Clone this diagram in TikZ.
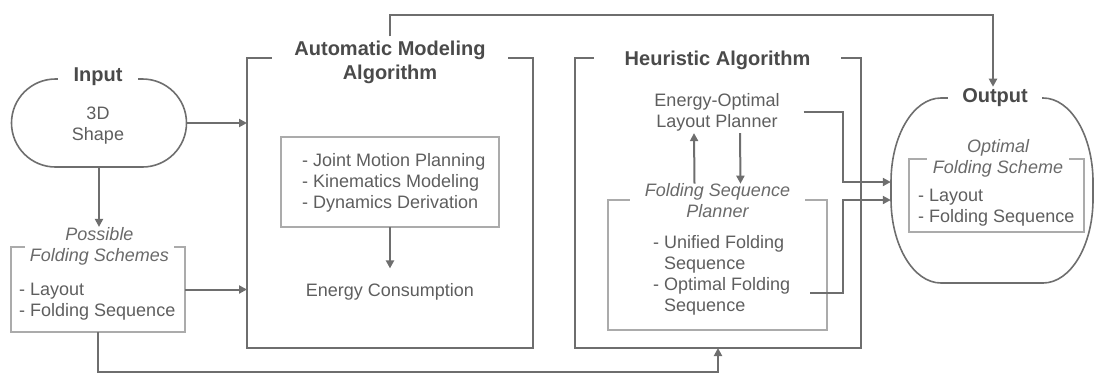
\documentclass[tikz,border=0pt]{standalone}
\usepackage{fontspec}
\setmainfont{Liberation Sans}
\usetikzlibrary{arrows.meta,shapes.misc}
\definecolor{linegray}{HTML}{6E6E6E}
\definecolor{boxgray}{HTML}{ABABAB}
\definecolor{txtgray}{HTML}{5E5E5E}
\definecolor{ttlgray}{HTML}{4A4A4A}
\definecolor{itgray}{HTML}{6A6A6A}
\begin{document}
\begin{tikzpicture}[x=1pt,y=1pt,yscale=-1,
  conn/.style={draw=linegray,line width=2pt},
  arr/.style={conn,-{Triangle[length=8pt,width=8pt]}},
  bigbox/.style={draw=linegray,line width=2pt,inner sep=0pt,outer sep=0pt},
  smallbox/.style={draw=boxgray,line width=1.6pt,inner sep=0pt,outer sep=0pt},
  txt/.style={text=txtgray,font=\fontsize{18}{21}\selectfont,inner sep=0pt,align=center},
  lst/.style={txt,align=left,anchor=west},
  itl/.style={text=itgray,font=\itshape\fontsize{18}{21}\selectfont,inner sep=0pt,align=center,fill=white},
  ttl/.style={text=ttlgray,font=\bfseries\fontsize{20}{24}\selectfont,inner ysep=2pt,align=center,fill=white},
]
\useasboundingbox (0,0) rectangle (1094,376);

% frames
\node[bigbox,minimum width=286pt,minimum height=290pt] (ama) at (390,203) {};
\node[bigbox,minimum width=286pt,minimum height=290pt] (ha) at (718,203) {};
\node[smallbox,minimum width=218pt,minimum height=90pt] (amain) at (390,182) {};
\node[smallbox,minimum width=219pt,minimum height=130pt] (fsp) at (717.5,265) {};
\node[smallbox,minimum width=174pt,minimum height=85pt] (pfs) at (98,289.5) {};
\node[smallbox,minimum width=175pt,minimum height=73pt] (ofs) at (996.5,195.5) {};
\node[draw=linegray,line width=1.6pt,rounded rectangle,minimum width=175pt,minimum height=88pt,inner sep=0pt] (in) at (99,123) {};

% output outline with elliptic corners
\draw[draw=linegray,line width=1.6pt]
  (941,98) arc[start angle=270,end angle=180,x radius=50,y radius=84]
  -- (891,199) arc[start angle=180,end angle=90,x radius=50,y radius=84]
  -- (1043,283) arc[start angle=90,end angle=0,x radius=50,y radius=84]
  -- (1093,182) arc[start angle=0,end angle=-90,x radius=50,y radius=84]
  -- cycle;
\node[minimum width=202pt,minimum height=185pt,inner sep=0pt] (out) at (992,190.5) {};

% titles
\node[ttl,inner xsep=16pt] (int) at (98,77) {Input};
\node[ttl,inner xsep=22pt,inner ysep=4pt] (amat) at (390,62) {Automatic Modeling\\Algorithm};
\node[ttl,inner xsep=31pt] (hat) at (717.5,60) {Heuristic Algorithm};
\node[ttl,inner xsep=14pt] (outt) at (995,98) {Output};
\node[itl,inner xsep=5pt] (pfst) at (99.5,246) {Possible\\Folding Schemes};
\node[itl,inner xsep=15pt] (fspt) at (717.5,201) {Folding Sequence\\Planner};
\node[itl,inner xsep=6pt] (ofst) at (998,158) {Optimal\\Folding Scheme};

% body text
\node[txt] (shape) at (98,126) {3D\\Shape};
\node[lst] (pfl) at (19,302) {- Layout\\- Folding Sequence};
\node[lst] (jm) at (302,183) {- Joint Motion Planning\\- Kinematics Modeling\\- Dynamics Derivation};
\node[txt,inner ysep=15pt] (ec) at (390,292) {Energy Consumption};
\node[txt,inner ysep=2pt] (eo) at (717,112) {Energy-Optimal\\Layout Planner};
\node[lst] (fl) at (653,275) {- Unified Folding\\\hphantom{- }Sequence\\- Optimal Folding\\\hphantom{- }Sequence};
\node[lst] (ofl) at (918,208) {- Layout\\- Folding Sequence};

% connectors
\draw[arr] (in.east) -- (in.east -| ama.west);
\draw[arr] (in.south) -- (in.south |- pfst.north);
\draw[arr] (pfs.east) -- (pfs.east -| ama.west);
\coordinate (bl) at (718,372);
\draw[arr] (pfs.south) |- (bl) -- (ha.south);
\draw[arr] (amain.south) -- (ec.north);
\coordinate (tr) at (993,15);
\draw[arr] (amat.north) |- (tr) -- (tr |- outt.north);
\draw[arr] ([xshift=-23pt]fspt.north) -- ([xshift=-23pt]eo.south);
\draw[arr] ([xshift=23pt]eo.south) -- ([xshift=23pt]fspt.north);
\coordinate (j1) at (843,182);
\coordinate (j2) at (843,200);
\coordinate (optf) at (810,293);
\draw[arr] ([xshift=24pt]eo.east) -| (j1) -- (j1 -| out.west);
\draw[arr] (optf) -| (j2) -- (j2 -| out.west);
\end{tikzpicture}
\end{document}
